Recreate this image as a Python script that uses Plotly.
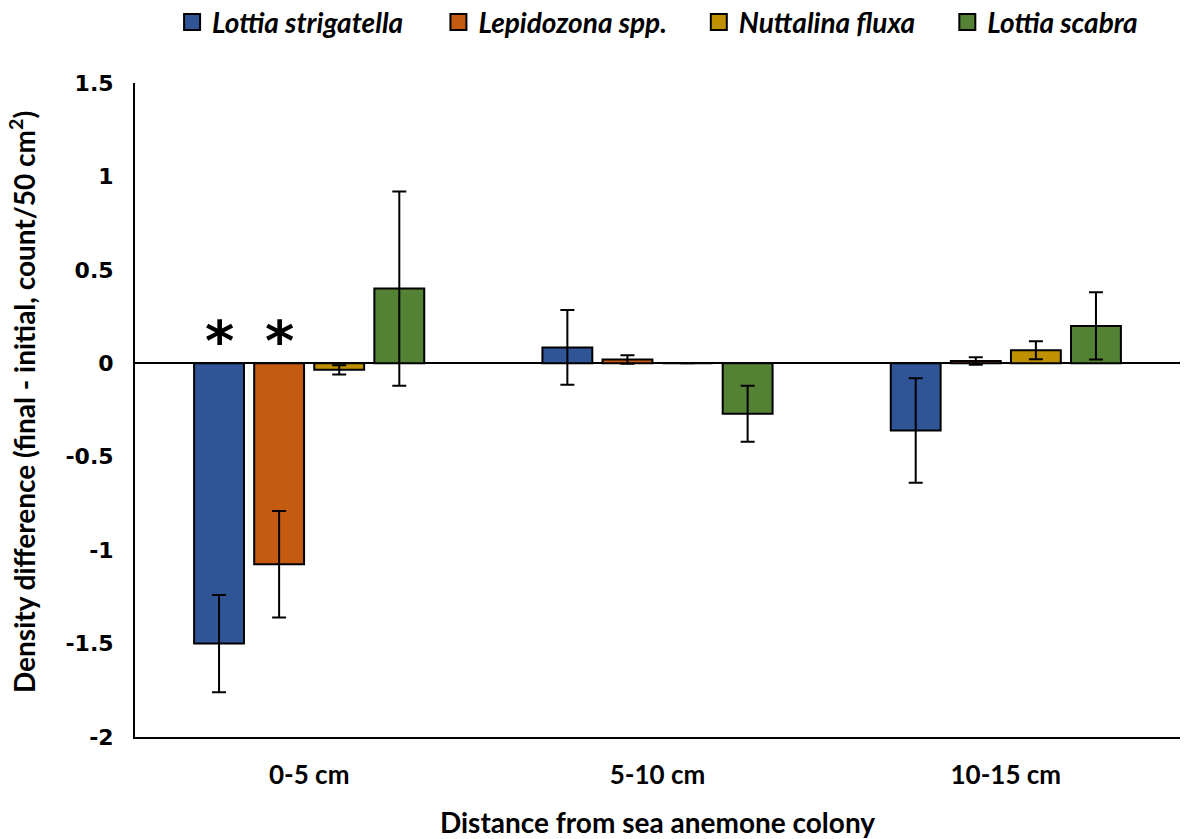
import plotly.graph_objects as go

categories = ["0-5 cm", "5-10 cm", "10-15 cm"]
species = ["Lottia strigatella", "Lepidozona spp.", "Nuttalina fluxa", "Lottia scabra"]
colors = ["#2F5597", "#C55A11", "#BF9000", "#548235"]

lottia_strigatella = [-1.50, 0.085, -0.36]
lepidozona = [-1.075, 0.02, 0.012]
nuttalina = [-0.035, 0.0, 0.07]
lottia_scabra = [0.40, -0.27, 0.20]

err_lottia_strigatella = [0.26, 0.20, 0.28]
err_lepidozona = [0.285, 0.023, 0.02]
err_nuttalina = [0.025, 0.0, 0.048]
err_lottia_scabra = [0.52, 0.15, 0.18]

values = [lottia_strigatella, lepidozona, nuttalina, lottia_scabra]
errors = [err_lottia_strigatella, err_lepidozona, err_nuttalina, err_lottia_scabra]

# significance markers: (category index, series index)
significant = [(0, 0), (0, 1)]

y_title = "Density difference (final - initial, count/50 cm<sup>2</sup>)"
x_title = "Distance from sea anemone colony"

BARGAP = 0.31
BARGROUPGAP = 0.17
legend_x = [0.138, 0.362, 0.581, 0.790]
legend_ids = ["legend", "legend2", "legend3", "legend4"]

fig = go.Figure()
for name, vals, errs, col in zip(species, values, errors, colors):
    fig.add_trace(go.Bar(
        name=name, x=categories, y=vals, legendgroup=name, showlegend=False,
        marker=dict(color=col, line=dict(color="black", width=2)),
        error_y=dict(type="data", array=errs, visible=True, color="black",
                     thickness=2, width=7),
    ))

# legend entries with larger square swatches (legend-only, no data drawn)
for name, col, lid in zip(species, colors, legend_ids):
    fig.add_trace(go.Scatter(
        name=name, x=[None], y=[None], mode="markers", legendgroup=name, legend=lid,
        marker=dict(symbol="square", size=16, color=col, line=dict(color="black", width=2)),
    ))

n = len(species)
slot = (1 - BARGAP) / n
for ci, si in significant:
    xpos = ci - (1 - BARGAP) / 2 + slot * (si + 0.5)
    fig.add_annotation(x=xpos, y=0, xref="x", yref="y", text="<b>*</b>",
                       showarrow=False, yanchor="bottom", yshift=-12,
                       font=dict(family="DejaVu Sans", size=56, color="black"))

# y-axis title placed as rotated annotation to sit close to the page edge
fig.add_annotation(x=0, y=0.5, xref="paper", yref="paper", text=y_title,
                   textangle=-90, showarrow=False, xanchor="center", yanchor="middle",
                   xshift=-113, yshift=8,
                   font=dict(family="Lato", size=28, color="black", weight="bold"))

legend_style = dict(orientation="h", xanchor="left", xref="container",
                    y=0.983, yanchor="middle", yref="container",
                    font=dict(family="Lato", size=28, color="black", style="italic", weight="bold"),
                    itemwidth=30)

fig.update_layout(
    width=1189, height=839,
    paper_bgcolor="white", plot_bgcolor="white",
    margin=dict(l=127, r=17, t=75, b=110, autoexpand=False),
    barmode="group", bargap=BARGAP, bargroupgap=BARGROUPGAP,
    showlegend=True,
    xaxis=dict(showline=True, linecolor="black", linewidth=2, ticks="", automargin=False,
               tickfont=dict(family="Lato", size=26, color="black", weight="bold"),
               ticklabelstandoff=14,
               title=dict(text=x_title,
                          font=dict(family="Lato", size=28, color="black", weight="bold"),
                          standoff=24)),
    yaxis=dict(range=[-2, 1.5], tickvals=[-2, -1.5, -1, -0.5, 0, 0.5, 1, 1.5],
               ticktext=["-2", "-1.5", "-1", "-0.5", "0", "0.5", "1", "1.5"],
               showline=True, linecolor="black", linewidth=2, showgrid=False,
               zeroline=True, zerolinecolor="black", zerolinewidth=2, ticks="",
               automargin=False,
               tickfont=dict(family="DejaVu Sans", size=22, color="black", weight="bold"),
               ticklabelstandoff=15),
)
for lid, lx in zip(legend_ids, legend_x):
    fig.update_layout({lid: dict(legend_style, x=lx)})

fig.write_html("out.html")
